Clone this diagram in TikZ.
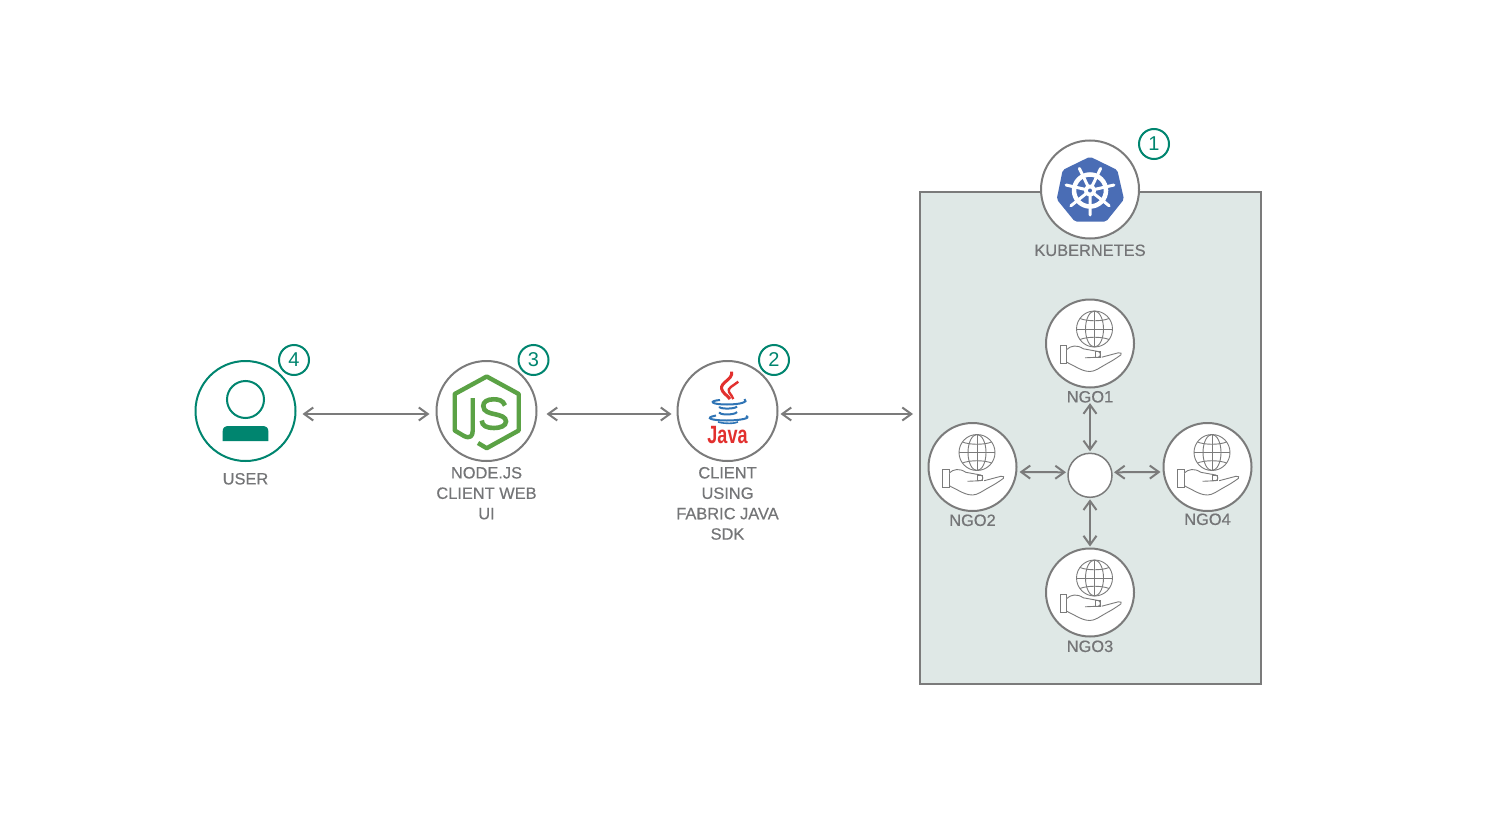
\documentclass[tikz,border=0pt]{standalone}
\usepackage{fontspec}
\setmainfont{Liberation Sans}
\newfontfamily\capfont[FakeBold=0.5]{Liberation Sans}
\usetikzlibrary{positioning,arrows.meta}
\definecolor{linegray}{HTML}{7B7B7B}
\definecolor{textgray}{HTML}{747577}
\definecolor{panelfill}{HTML}{DFE8E6}
\definecolor{badgegreen}{HTML}{00856F}
\definecolor{kubeblue}{HTML}{4A6DB5}
\definecolor{nodegreen}{HTML}{5BA245}
\definecolor{javared}{HTML}{E2302E}
\definecolor{javablue}{HTML}{2F74B5}
% globe resting on a hand, drawn around the centre of an NGO circle
\newcommand{\ngoicon}[2]{
  \begin{scope}[shift={(#1,#2)}, line width=0.9pt, draw=linegray]
    \draw (4.5,-14.5) circle (18);
    \draw (4.5,-14.5) ellipse (9 and 18);
    \draw (4.5,-32.5) -- (4.5,3.5);
    \draw (-13.5,-14.5) -- (22.5,-14.5);
    \draw (-10,-25) .. controls (-3,-22) and (12,-22) .. (19,-25);
    \draw (-10,-4) .. controls (-3,-7) and (12,-7) .. (19,-4);
    \draw (-30,2) rectangle (-23.3,20);
    \draw[fill=white] (-23.3,6) .. controls (-19,2) and (-13,1) .. (-6.7,5.3) -- (8.3,8) .. controls (11,9) and (11,13) .. (8.3,13.7) -- (-5,14.3);
    \draw (11.7,13.7) -- (28.3,9.3) .. controls (31,9) and (32,10) .. (31,11.3) .. controls (26,15) and (21,18) .. (16.7,20.3) .. controls (10,24) and (5,28) .. (0,28) .. controls (-5,28) and (-9,26) .. (-11.7,24.7) -- (-23.3,18.7);
    \draw (5,8) rectangle (10,13.5);
  \end{scope}
}
\begin{document}
\begin{tikzpicture}[x=1pt, y=-1pt]
    \tikzstyle{every node} = [inner sep = 0pt, outer sep = 0pt]
    \tikzstyle{service} = [circle, minimum size = 100pt, line width = 2pt, draw = linegray, fill = white]
    \tikzstyle{userbox} = [circle, minimum size = 100pt, line width = 2pt, draw = badgegreen, fill = white]
    \tikzstyle{ngo}     = [circle, minimum size = 88pt, line width = 2pt, draw = linegray, fill = white]
    \tikzstyle{hub}     = [circle, minimum size = 44pt, line width = 1.5pt, draw = linegray, fill = white]
    \tikzstyle{badge}   = [circle, minimum size = 30pt, line width = 2pt, draw = badgegreen, fill = white, text = badgegreen, font = \fontsize{20}{20}\selectfont]
    \tikzstyle{caption} = [text = textgray, align = center, font = \capfont\fontsize{16.4}{20.4}\selectfont]
    \tikzstyle{arrow}   = [line width = 2pt, draw = linegray, {Straight Barb[length=9pt,width=13pt]}-{Straight Barb[length=9pt,width=13pt]}]

    \useasboundingbox (0,0) rectangle (1496,824);

    \node[rectangle, minimum width = 341pt, minimum height = 492pt, line width = 2pt, draw = linegray, fill = panelfill] (panel) at (1090,437.5) {};

    \node[userbox] (user) at (245.5,411) {};
    \node[service] (nodejs) at (486.5,411) {};
    \node[service] (java) at (727.5,411) {};
    \node[service, minimum size = 98pt] (kube) at (1090,189.5) {};
    \node[ngo] (ngo1) at (1090,343.5) {};
    \node[ngo] (ngo2) at (972.5,467) {};
    \node[ngo] (ngo3) at (1090,592.5) {};
    \node[ngo] (ngo4) at (1207.5,467) {};
    \node[hub] (center) at (1090,475.3) {};

    \node[badge] (b4) at (294,360) {4};
    \node[badge] (b3) at (533.5,360) {3};
    \node[badge] (b2) at (774,360) {2};
    \node[badge] (b1) at (1154,144) {1};

    \node[caption, below = 12pt of user] (userlabel) {USER};
    \node[caption, below = 6pt of nodejs] (nodejslabel) {NODE.JS\\CLIENT WEB\\UI};
    \node[caption, below = 6pt of java] (javalabel) {CLIENT\\USING\\FABRIC JAVA\\SDK};
    \node[caption, below = 6pt of kube] (kubelabel) {KUBERNETES};
    \node[caption, below = 3.5pt of ngo1] (ngo1label) {NGO1};
    \node[caption, below = 3.5pt of ngo2] (ngo2label) {NGO2};
    \node[caption, below = 4pt of ngo3] (ngo3label) {NGO3};
    \node[caption, below = 2.5pt of ngo4] (ngo4label) {NGO4};

    % user
    \draw[badgegreen, line width = 2pt] (245.5,399.5) circle (18.5);
    \fill[badgegreen] (222.7,441) -- (222.7,431) .. controls (222.7,427.5) and (225,426) .. (229,426) -- (262,426) .. controls (266,426) and (268.3,427.5) .. (268.3,431) -- (268.3,441) -- cycle;

    % node.js logo
    \draw[nodegreen, line width = 4.4pt, line join = round] (478,443) -- (486.7,448.2) -- (518.7,430.5) -- (518.7,394) -- (486.7,376.5) -- (454.7,394) -- (454.7,430.5) -- (464,436) .. controls (470,439) and (472.7,436) .. (472.7,431) -- (472.7,398);
    \draw[nodegreen, line width = 4.6pt] (505,405.5) .. controls (503,400) and (498,399.3) .. (493.3,399.3) .. controls (487,399.3) and (483.3,402) .. (483.3,406) .. controls (483.3,412) and (490,413) .. (494,414) .. controls (501,415.5) and (506,417) .. (506,421.5) .. controls (506,426) and (500,428) .. (494,428) .. controls (487,428) and (482,426) .. (481.7,420.5);

    % java logo
    \draw[javared, line width = 3pt] (731.7,371.7) .. controls (733,380) and (720,382) .. (721.7,389) .. controls (722.5,393) and (727,395) .. (730,399);
    \draw[javared, line width = 2.4pt] (738.3,381.7) .. controls (733,386) and (727,388) .. (729,392) .. controls (730,395) and (733,396) .. (733.3,399);
    \draw[javablue, line width = 2pt] (720,400) .. controls (708,401) and (711,404.5) .. (727,404.5) .. controls (740,404.5) and (749,402) .. (744.5,399);
    \draw[javablue, line width = 2pt] (720,406.5) .. controls (717,409) and (735,409.5) .. (737,406.5);
    \draw[javablue, line width = 2pt] (720,412) .. controls (717,415) and (735,415.5) .. (737,412);
    \draw[javablue, line width = 2pt] (716,415.5) .. controls (703,418) and (712,420.5) .. (727,420.5) .. controls (740,420.5) and (752,418) .. (746,416);
    \draw[javablue, line width = 1.6pt] (718,422) .. controls (725,424) and (735,423.5) .. (738,422);
    \node[text = javared, font = \fontsize{25}{25}\selectfont\bfseries] (javaword) at (727.5,435) {\scalebox{0.72}[1]{Java}};

    % kubernetes logo
    \fill[kubeblue, rounded corners = 2pt] (1090,156.7) -- (1117.3,170) -- (1124,199.3) -- (1106,221.7) -- (1075,221.7) -- (1056.7,199.3) -- (1062.7,170) -- cycle;
    \draw[white, line width = 4.5pt] (1090,190.5) circle (16);
    \draw[white, line width = 3pt, line cap = round] (1090,190.5) -- +(90:24.5) (1090,190.5) -- +(141.4:24.5) (1090,190.5) -- +(192.9:24.5) (1090,190.5) -- +(244.3:24.5) (1090,190.5) -- +(295.7:24.5) (1090,190.5) -- +(347.1:24.5) (1090,190.5) -- +(38.6:24.5);
    \fill[white] (1090,190.5) circle (6);
    \fill[kubeblue] (1090,190.5) circle (2);

    \ngoicon{1090}{343.5}
    \ngoicon{972.5}{467}
    \ngoicon{1090}{592.5}
    \ngoicon{1207.5}{467}

    \draw[arrow] ([shift={(7,3)}]user.east) -- ([shift={(-7,3)}]nodejs.west);
    \draw[arrow] ([shift={(10,3)}]nodejs.east) -- ([shift={(-6,3)}]java.west);
    \draw[arrow] ([shift={(3,3)}]java.east) -- ([shift={(-6.5,-23.5)}]panel.west);
    \draw[arrow] ([yshift=2]center.north) -- ([yshift=-0.5]ngo1label.south);
    \draw[arrow] ([yshift=-2]center.south) -- ([yshift=2]ngo3.north);
    \draw[arrow] ([shift={(-2,-3)}]center.west) -- ([shift={(3,5)}]ngo2.east);
    \draw[arrow] ([shift={(2,-3)}]center.east) -- ([shift={(-3,5)}]ngo4.west);
  \end{tikzpicture}
\end{document}
